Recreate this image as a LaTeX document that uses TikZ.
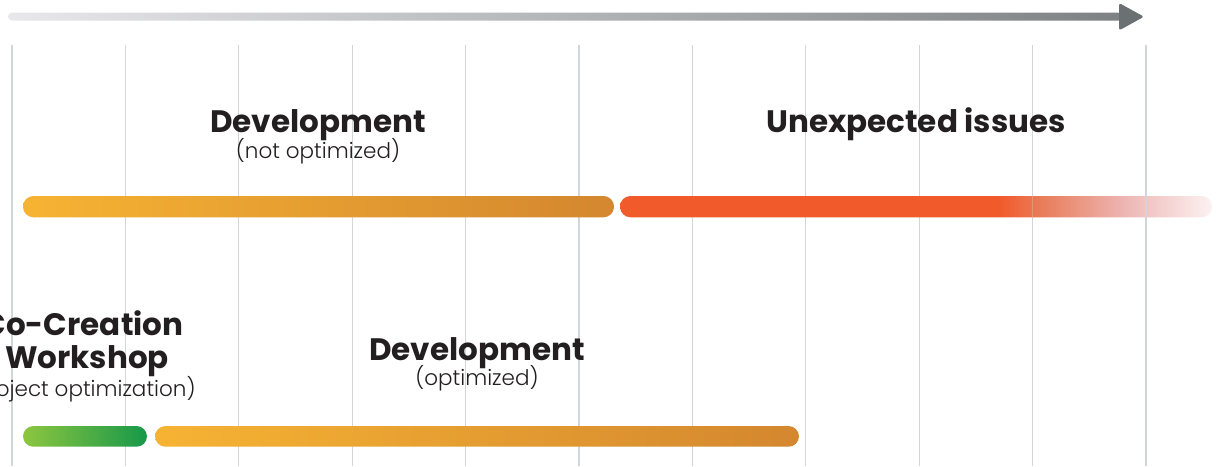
\documentclass[tikz,border=0pt]{standalone}
\usepackage{fontspec}
\setmainfont{Poppins}
\newfontfamily\lightfont{Poppins}[UprightFont=* Light]
\definecolor{gridc}{HTML}{D3D6D9}
\definecolor{txt}{HTML}{231F20}
\definecolor{arrL}{HTML}{E8E8EA}
\definecolor{arrR}{HTML}{7E8184}
\definecolor{arrH}{HTML}{6B7173}
\definecolor{orL}{HTML}{F6B333}
\definecolor{orR}{HTML}{D4872F}
\definecolor{redc}{HTML}{F15A2B}
\definecolor{redm}{HTML}{E9805F}
\definecolor{pinkc}{HTML}{EDB5B2}
\definecolor{pinkw}{HTML}{FCF2F2}
\definecolor{grL}{HTML}{8DC63F}
\definecolor{grR}{HTML}{17984A}
\pgfdeclarehorizontalshading{redbarshade}{100bp}{color(0bp)=(redc); color(25bp)=(redc); color(57bp)=(redc); color(61bp)=(redm); color(67.5bp)=(pinkc); color(75bp)=(pinkw); color(100bp)=(pinkw)}
\tikzset{
  gridline/.style={draw=gridc, line width=1.2pt},
  title/.style={text=txt, font=\fontsize{31}{36}\selectfont\bfseries, inner sep=0pt, anchor=base},
  sub/.style={text=txt, font=\lightfont\fontsize{21.5}{26}\selectfont, inner sep=0pt, anchor=base},
  bar/.style={rounded corners=10.5pt}
}
\begin{document}
\begin{tikzpicture}[x=1pt,y=-1pt]
\useasboundingbox (0,0) rectangle (1217,466);
\fill[white] (0,0) rectangle (1217,466);
% grid lines
\foreach \i in {0,...,10} {
  \draw[gridline] ({12+113.4*\i},45) -- ({12+113.4*\i},466);
}
% time arrow
\shade[left color=arrL, right color=arrR, rounded corners=4pt] (8,12.7) rectangle (1122,20.7);
\fill[arrH, rounded corners=2.5pt] (1119,3) -- (1144,16.7) -- (1119,30.5) -- cycle;
% top bars
\shade[bar, left color=orL, right color=orR] (23,196) rectangle (614,217.3);
\shade[bar, shading=redbarshade] (620,196) rectangle (1212,217.3);
% grid lines showing through the faded end
\draw[gridline, opacity=0.35] ({12+113.4*9},196) -- ({12+113.4*9},217.3);
\draw[gridline, opacity=0.8] ({12+113.4*10},196) -- ({12+113.4*10},217.3);
% bottom bars
\shade[bar, left color=grL, right color=grR] (23,426) rectangle (147,446.7);
\shade[bar, left color=orL, right color=orR] (155,426) rectangle (799,446.7);
% texts
\node[title] (dev1) at (318,132.3) {Development};
\node[sub] (dev1s) at (318,158) {(not optimized)};
\node[title] (unexp) at (916,132.3) {Unexpected issues};
\node[title] (cc1) at (83,335) {Co-Creation};
\node[title] (cc2) at (87,368) {Workshop};
\node[sub] (ccs) at (80,396) {(project optimization)};
\node[title] (dev2) at (477,360) {Development};
\node[sub] (dev2s) at (477,385) {(optimized)};
\end{tikzpicture}
\end{document}
